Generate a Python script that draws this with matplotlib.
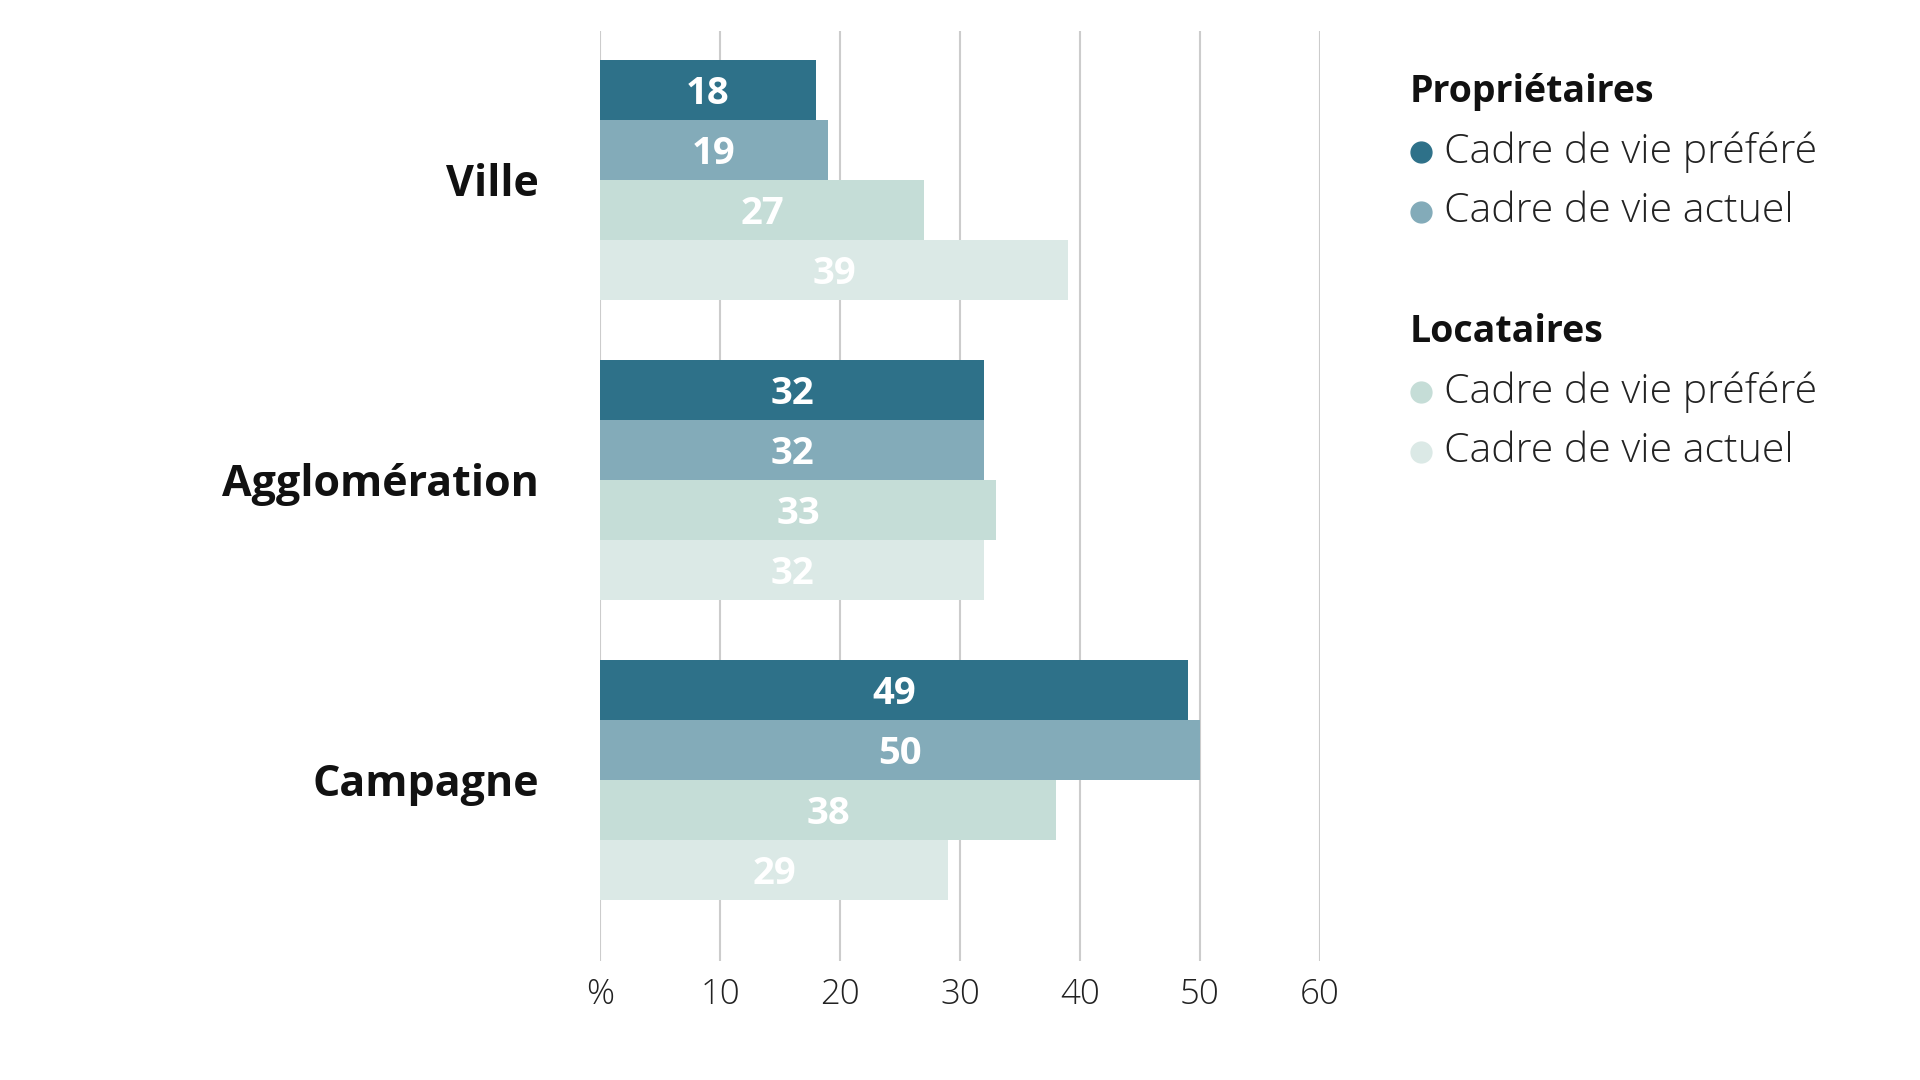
import matplotlib
matplotlib.use("Agg")
import matplotlib.pyplot as plt
from matplotlib.lines import Line2D
import numpy as np

plt.rcParams['font.family'] = ['Open Sans', 'DejaVu Sans']

categories = ["Ville", "Agglomération", "Campagne"]
series_names = ["Cadre de vie préféré", "Cadre de vie actuel",
                "Cadre de vie préféré", "Cadre de vie actuel"]
groups = ["Propriétaires", "Locataires"]
prop_prefere = [18, 32, 49]
prop_actuel = [19, 32, 50]
loc_prefere = [27, 33, 38]
loc_actuel = [39, 32, 29]
series = [prop_prefere, prop_actuel, loc_prefere, loc_actuel]
colors = ["#2e7189", "#83abb9", "#c5ddd7", "#dbe9e6"]
xticks = [0, 10, 20, 30, 40, 50, 60]
xticklabels = ["%", "10", "20", "30", "40", "50", "60"]

fig = plt.figure(figsize=(19.2, 10.8), dpi=100)
ax = fig.add_axes([600/1920, 1-961/1080, 720/1920, 930/1080])

pitch = 5
for i, (vals, col) in enumerate(zip(series, colors)):
    ys = [g*pitch + i for g in range(len(categories))]
    ax.barh(ys, vals, height=1.0, color=col, zorder=2)
    for y, v in zip(ys, vals):
        ax.text(v/2, y + 0.06, str(v), ha="center", va="center", color="white",
                fontsize=27.5, fontweight="bold", zorder=3)

ax.set_xlim(0, 60)
ax.set_ylim(14.517, -0.983)
ax.set_xticks(xticks)
ax.set_xticklabels(xticklabels, fontsize=25, fontweight="light", color="#222222")
ax.tick_params(axis="x", length=0, pad=12)
ax.set_yticks([g*pitch + 1.5 for g in range(len(categories))])
ax.set_yticklabels(categories, fontsize=31, fontweight="bold", color="#111111")
ax.tick_params(axis="y", length=0, pad=44)
ax.grid(axis="x", color="#cccccc", linewidth=1.5, zorder=0)
for s in ax.spines.values():
    s.set_visible(False)

# legend
def fx(px):
    return px/1920
def fy(py):
    return 1-py/1080

fig.text(fx(1410), fy(102), groups[0], fontsize=27, fontweight="bold",
         color="#111111", ha="left", va="baseline")
fig.text(fx(1410), fy(342), groups[1], fontsize=27, fontweight="bold",
         color="#111111", ha="left", va="baseline")
item_y = [152, 212, 392, 452]
for yy, name, col in zip(item_y, series_names, colors):
    fig.add_artist(Line2D([fx(1421)], [fy(yy)], marker="o", markersize=15,
                          color=col, linestyle="none", transform=fig.transFigure))
    fig.text(fx(1444), fy(yy), name, fontsize=29.5, fontweight="light",
             color="#222222", ha="left", va="center")

fig.savefig("out.png", dpi=100, facecolor="white")
